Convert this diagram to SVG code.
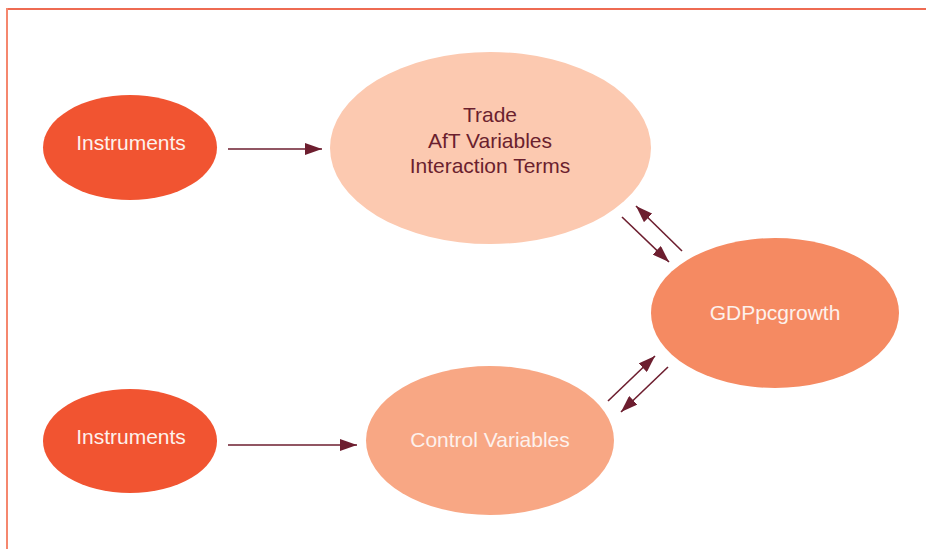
<svg xmlns="http://www.w3.org/2000/svg" width="926" height="549" viewBox="0 0 926 549">
<style>
.lbl{font-family:"Liberation Sans",Arial,sans-serif;font-size:21px;text-anchor:middle}
.w{fill:#FDF1EC}
.d{fill:#6B1F2E}
.con{stroke:#6D1E2F;stroke-width:1.6;fill:none;marker-end:url(#ah)}
</style>
<defs>
<marker id="ah" viewBox="0 0 17 12" refX="17" refY="6" markerWidth="17" markerHeight="12" orient="auto" markerUnits="userSpaceOnUse">
<path d="M0,0 L17,6 L0,12 z" fill="#6D1E2F"/>
</marker>
</defs>
<rect width="926" height="549" fill="#ffffff"/>
<g id="frame" fill="none" stroke-width="2">
<line x1="7" y1="9" x2="926" y2="9" stroke="#EE6B52"/>
<line x1="7" y1="8" x2="7" y2="549" stroke="#F5876E"/>
</g>
<g id="connectors">
<line class="con" x1="228" y1="149" x2="322" y2="149"/>
<line class="con" x1="228" y1="445" x2="357" y2="445"/>
<line class="con" x1="622" y1="217" x2="669" y2="262"/>
<line class="con" x1="682" y1="251" x2="636" y2="206"/>
<line class="con" x1="608" y1="401" x2="655" y2="356"/>
<line class="con" x1="668" y1="367" x2="621" y2="412"/>
</g>
<g id="instruments1">
<ellipse cx="130" cy="147.5" rx="87" ry="52.5" fill="#F15431"/>
<text class="lbl w" x="131" y="150">Instruments</text>
</g>
<g id="trade">
<ellipse cx="490.5" cy="148" rx="160.5" ry="96" fill="#FCC9B0"/>
<text class="lbl d" x="490" y="122">Trade</text>
<text class="lbl d" x="490" y="147.5">AfT Variables</text>
<text class="lbl d" x="490" y="173">Interaction Terms</text>
</g>
<g id="gdp">
<ellipse cx="775" cy="313" rx="124" ry="75" fill="#F58A62"/>
<text class="lbl w" x="775" y="320">GDPpcgrowth</text>
</g>
<g id="instruments2">
<ellipse cx="130" cy="441" rx="87" ry="52" fill="#F15431"/>
<text class="lbl w" x="131" y="444">Instruments</text>
</g>
<g id="control">
<ellipse cx="490" cy="440.5" rx="124" ry="74.5" fill="#F8A784"/>
<text class="lbl w" x="490" y="447">Control Variables</text>
</g>
</svg>
